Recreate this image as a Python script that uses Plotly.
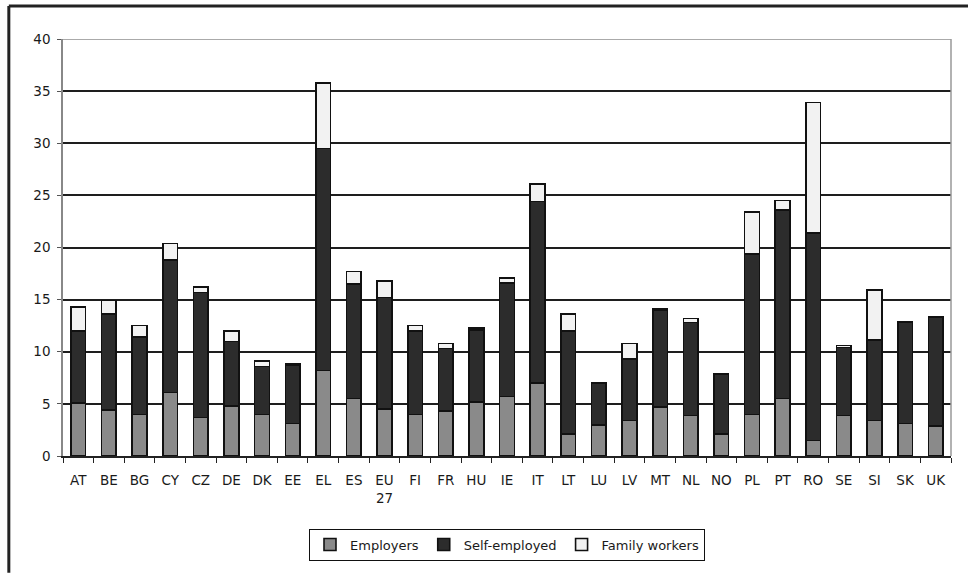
import plotly.graph_objects as go

countries = ["AT", "BE", "BG", "CY", "CZ", "DE", "DK", "EE", "EL", "ES", "EU<br>27", "FI", "FR", "HU",
             "IE", "IT", "LT", "LU", "LV", "MT", "NL", "NO", "PL", "PT", "RO", "SE", "SI", "SK", "UK"]
employers = [5.1, 4.4, 4.0, 6.1, 3.7, 4.8, 4.0, 3.1, 8.2, 5.5, 4.5, 4.0, 4.3, 5.2,
             5.7, 7.0, 2.1, 3.0, 3.4, 4.7, 3.9, 2.1, 4.0, 5.5, 1.5, 3.9, 3.4, 3.1, 2.9]
self_employed = [6.9, 9.2, 7.4, 12.7, 12.0, 6.2, 4.6, 5.6, 21.3, 11.0, 10.7, 8.0, 6.0, 6.9,
                 10.9, 17.4, 9.9, 4.0, 5.9, 9.3, 8.9, 5.7, 15.4, 18.1, 19.9, 6.5, 7.7, 9.7, 10.4]
family_workers = [2.3, 1.3, 1.1, 1.6, 0.5, 1.0, 0.5, 0.1, 6.3, 1.2, 1.6, 0.5, 0.5, 0.2,
                  0.5, 1.7, 1.6, 0.0, 1.5, 0.1, 0.4, 0.1, 4.0, 0.9, 12.5, 0.2, 4.8, 0.1, 0.1]
y_ticks = [0, 5, 10, 15, 20, 25, 30, 35, 40]

series = [("Employers", employers, "#8a8a8a"),
          ("Self-employed", self_employed, "#2c2c2c"),
          ("Family workers", family_workers, "#f2f2f2")]

fig = go.Figure()
for name, vals, col in series:
    fig.add_trace(go.Bar(x=countries, y=vals, name=name,
                         marker=dict(color=col, line=dict(color="#111111", width=1.6))))

fig.update_layout(
    barmode="stack",
    bargap=0.52,
    width=968, height=573,
    margin=dict(l=63, r=17, t=39, b=115),
    paper_bgcolor="white", plot_bgcolor="white",
    font=dict(family="DejaVu Sans", size=13, color="#1a1a1a"),
    showlegend=True,
    legend=dict(orientation="h", x=0.5, xanchor="center", y=-0.174, yanchor="top",
                bordercolor="#111111", borderwidth=1, font=dict(size=13),
                traceorder="normal", itemwidth=30, tracegroupgap=0),
    xaxis=dict(showgrid=False, showline=True, linecolor="#222222", linewidth=1.5,
               ticks="outside", tickson="boundaries", ticklen=5, tickcolor="#222222",
               mirror=False, tickfont=dict(size=13.5), tickangle=0, ticklabelstandoff=11),
    yaxis=dict(range=[0, 40], tickvals=y_ticks, showgrid=True, gridcolor="#1e1e1e", gridwidth=2,
               showline=True, linecolor="#888888", linewidth=1.5, ticks="outside", ticklen=4,
               tickcolor="#555555", zeroline=False, tickfont=dict(size=13.5), ticklabelstandoff=4),
    shapes=[
        dict(type="line", xref="paper", yref="y", x0=0, x1=1, y0=40, y1=40,
             line=dict(color="#aaaaaa", width=2)),
        dict(type="line", xref="paper", yref="paper", x0=1, x1=1, y0=0, y1=1,
             line=dict(color="#999999", width=1.5)),
    ],
)
# outer frame (top and left edges)
fig.add_shape(type="line", xref="paper", yref="paper", x0=-0.061, x1=1.02, y0=1.079, y1=1.079,
              line=dict(color="#222222", width=3))
fig.add_shape(type="line", xref="paper", yref="paper", x0=-0.061, x1=-0.061, y0=1.079, y1=-0.28,
              line=dict(color="#222222", width=3))

fig.write_html("out.html", post_script="document.body.style.margin='0';",
               config={"displayModeBar": False})
